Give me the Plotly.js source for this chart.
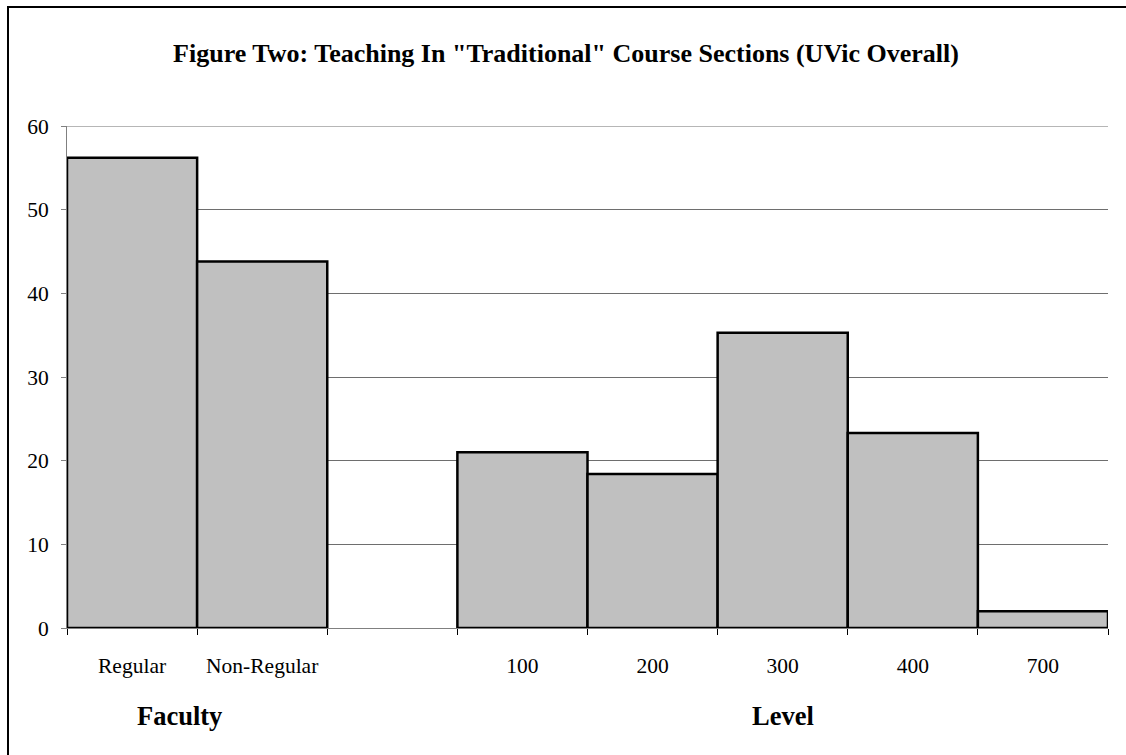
<!DOCTYPE html>
<html>
<head>
<meta charset="utf-8">
<script src="https://cdn.plot.ly/plotly-3.0.1.min.js"></script>
<style>
  html, body { margin: 0; padding: 0; background: #fff; }
  #chart { width: 1126px; height: 755px; }
</style>
</head>
<body>
<div id="chart"></div>
<script>
// Share of "traditional" course sections, by faculty type and by course level (%)
const categories = ["Regular", "Non-Regular", " ", "100", "200", "300", "400", "700"];
const percentages = [56.2, 43.8, null, 21.0, 18.4, 35.3, 23.3, 2.0];
const groupLabels = ["Faculty", "Level"];
const groupCenterIndex = [0, 5];   // category index each group label sits under
const yTicks = [0, 10, 20, 30, 40, 50, 60];

const serif = "'Liberation Serif', 'Times New Roman', serif";
const gridColor = "#6e6e6e";
const yMax = yTicks[yTicks.length - 1];

const trace = {
  type: "bar",
  x: categories,
  y: percentages,
  marker: { color: "#C0C0C0", line: { color: "#000", width: 2.5 } },
  hoverinfo: "x+y"
};

const W = 1126, H = 755;
const m = { l: 67, r: 18, t: 126, b: 127 };
const pw = W - m.l - m.r, ph = H - m.t - m.b;
// convert page pixels to paper fractions
const px = v => (v - m.l) / pw;
const py = v => (H - m.b - v) / ph;

const layout = {
  width: W, height: H,
  margin: m,
  paper_bgcolor: "#fff",
  plot_bgcolor: "#fff",
  showlegend: false,
  bargap: 0,
  font: { family: serif, size: 21.5, color: "#000" },
  title: {
    text: "<b>Figure Two: Teaching In \"Traditional\" Course Sections (UVic Overall)</b>",
    font: { family: serif, size: 26, color: "#000" },
    x: px(566), xref: "paper", xanchor: "center",
    y: 1 - 53 / H, yref: "container", yanchor: "middle"
  },
  xaxis: {
    type: "category",
    categoryorder: "array",
    categoryarray: categories,
    range: [-0.5, categories.length - 0.5],
    tickson: "boundaries",
    tickangle: 0,
    ticks: "outside",
    ticklen: 6,
    tickcolor: "#000",
    tickwidth: 1,
    showline: true,
    linecolor: "#808080",
    linewidth: 1,
    showgrid: false,
    zeroline: false,
    ticklabelstandoff: 18,
    tickfont: { family: serif, size: 21.5, color: "#000" },
    fixedrange: true
  },
  yaxis: {
    range: [0, yMax],
    tickvals: yTicks,
    ticktext: yTicks.map(String),
    ticks: "outside",
    ticklen: 5,
    tickcolor: "#808080",
    showline: true,
    linecolor: "#808080",
    linewidth: 1,
    showgrid: true,
    gridcolor: gridColor,
    gridwidth: 1,
    zeroline: false,
    ticklabelstandoff: 8,
    tickfont: { family: serif, size: 21.5, color: "#000" },
    fixedrange: true
  },
  annotations: groupLabels.map((t, i) => ({
    text: "<b>" + t + "</b>",
    x: groupCenterIndex[i], xref: "x",
    y: py(716), yref: "paper",
    xanchor: "center", yanchor: "middle",
    xshift: i === 0 ? 47 : 0,
    showarrow: false,
    font: { family: serif, size: 26.5, color: "#000" }
  })),
  shapes: [
    // outer frame around the figure
    {
      type: "rect",
      xref: "paper", yref: "paper",
      x0: px(8), x1: px(1140),
      y0: py(770), y1: py(7),
      line: { color: "#000", width: 2 },
      fillcolor: "rgba(0,0,0,0)",
      layer: "below"
    },
    // gridline along the top of the value range
    {
      type: "line",
      xref: "paper", yref: "y",
      x0: 0, x1: 1, y0: yMax, y1: yMax,
      line: { color: gridColor, width: 1 },
      layer: "below"
    }
  ]
};

Plotly.newPlot("chart", [trace], layout, { displayModeBar: false, staticPlot: true });
</script>
</body>
</html>
